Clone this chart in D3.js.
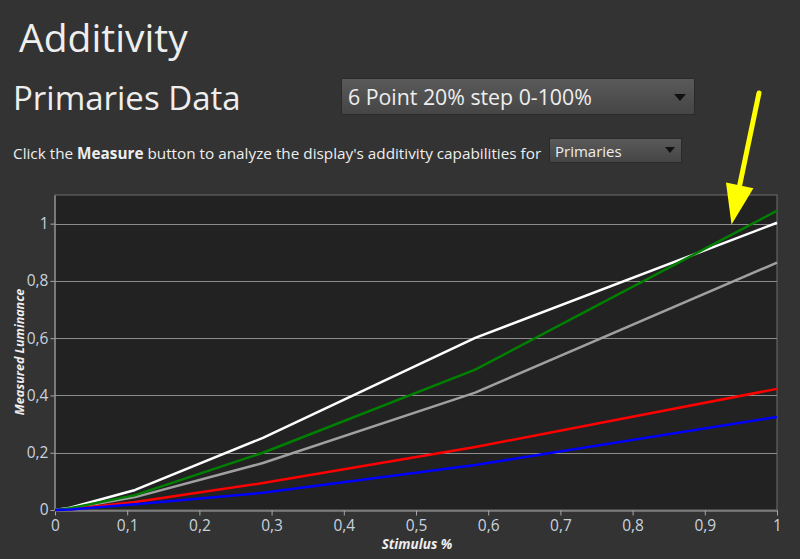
<!DOCTYPE html>
<html>
<head>
    <meta charset="utf-8">
    <script src="https://d3js.org/d3.v7.min.js"></script>
    <style>
        body { margin: 0; background: #333333; }
        svg { display: block; }
    </style>
</head>
<body>
    <svg id="svg"></svg>
</body>
</html>

<script type="text/javascript">
    // stimulus levels (0,20,...,100% through gamma 2.4)
    const stimulus = [0, 0.021, 0.111, 0.288, 0.582, 1];
    const whiteLum = [0, 0.008, 0.07, 0.252, 0.601, 1.003];
    const greenLum = [0, 0.006, 0.052, 0.2, 0.49, 1.045];
    const grayLum  = [0, 0.005, 0.045, 0.164, 0.41, 0.864];
    const redLum   = [0, 0.003, 0.028, 0.094, 0.22, 0.423];
    const blueLum  = [0, 0.002, 0.02, 0.06, 0.157, 0.325];

    const xTicks = [0, 0.1, 0.2, 0.3, 0.4, 0.5, 0.6, 0.7, 0.8, 0.9, 1];
    const yTicks = [0, 0.2, 0.4, 0.6, 0.8, 1];

    const series = [
        { name: 'white', values: whiteLum, color: '#ffffff' },
        { name: 'gray', values: grayLum, color: '#a0a0a0' },
        { name: 'red', values: redLum, color: '#ff0000' },
        { name: 'green', values: greenLum, color: '#008000' },
        { name: 'blue', values: blueLum, color: '#0000ff' }
    ];

    const width = 800;
    const height = 559;
    const plot = { left: 55, right: 777, top: 195, bottom: 510 };
    const uiFont = "'Open Sans', 'Noto Sans', sans-serif";
    const textColor = '#eeeeee';
    const tickColor = '#c8d2de';

    const svg = d3.select('#svg')
        .attr('width', width)
        .attr('height', height);

    svg.append('rect')
        .attr('width', width)
        .attr('height', height)
        .attr('fill', '#333333');

    // header texts
    svg.append('text')
        .attr('x', 19).attr('y', 52)
        .attr('font-family', uiFont).attr('font-size', 39)
        .attr('fill', textColor)
        .text('Additivity');

    svg.append('text')
        .attr('x', 13).attr('y', 110)
        .attr('font-family', uiFont).attr('font-size', 33)
        .attr('fill', textColor)
        .text('Primaries Data');

    const grad = svg.append('defs').append('linearGradient')
        .attr('id', 'btn').attr('x1', 0).attr('y1', 0).attr('x2', 0).attr('y2', 1);
    grad.append('stop').attr('offset', '0%').attr('stop-color', '#5a5a5a');
    grad.append('stop').attr('offset', '100%').attr('stop-color', '#454545');

    // big dropdown
    svg.append('rect')
        .attr('x', 341.5).attr('y', 78.5).attr('width', 353).attr('height', 36)
        .attr('fill', 'url(#btn)').attr('stroke', '#2a2a2a');
    svg.append('text')
        .attr('x', 348).attr('y', 105)
        .attr('font-family', uiFont).attr('font-size', 21.3)
        .attr('fill', textColor)
        .text('6 Point 20% step 0-100%');
    svg.append('path')
        .attr('d', 'M674,94 L686,94 L680,101 Z')
        .attr('fill', '#111');

    // instruction line
    const info = svg.append('text')
        .attr('x', 13).attr('y', 159)
        .attr('font-family', uiFont).attr('font-size', 15.3)
        .attr('fill', textColor);
    info.append('tspan').text('Click the ');
    info.append('tspan').attr('font-weight', 'bold').text('Measure');
    info.append('tspan').text(" button to analyze the display's additivity capabilities for");

    svg.append('rect')
        .attr('x', 549.5).attr('y', 138.5).attr('width', 132).attr('height', 24)
        .attr('fill', 'url(#btn)').attr('stroke', '#2a2a2a');
    svg.append('text')
        .attr('x', 555).attr('y', 157)
        .attr('font-family', uiFont).attr('font-size', 15)
        .attr('fill', textColor)
        .text('Primaries');
    svg.append('path')
        .attr('d', 'M665,147 L675,147 L670,153 Z')
        .attr('fill', '#111');

    // chart
    const x = d3.scaleLinear().domain([0, 1]).range([plot.left, plot.right]);
    const y = d3.scaleLinear().domain([0, 1.1]).range([plot.bottom, plot.top]);

    svg.append('rect')
        .attr('x', plot.left).attr('y', plot.top)
        .attr('width', plot.right - plot.left).attr('height', plot.bottom - plot.top)
        .attr('fill', '#222222')
        .attr('stroke', '#6e6e6e');

    svg.append('g')
        .selectAll('line')
        .data(yTicks.filter(d => d > 0))
        .join('line')
        .attr('x1', plot.left).attr('x2', plot.right)
        .attr('y1', d => Math.round(y(d)) + 0.5).attr('y2', d => Math.round(y(d)) + 0.5)
        .attr('stroke', '#8c8c8c');

    const fmt = d => d3.format('~g')(d).replace('.', ',');

    const xAxis = svg.append('g')
        .attr('transform', `translate(0, ${plot.bottom + 0.5})`)
        .call(d3.axisBottom(x).tickValues(xTicks).tickFormat(fmt).tickSize(5).tickSizeOuter(0).tickPadding(4));
    const yAxis = svg.append('g')
        .attr('transform', `translate(${plot.left - 0.5}, 0)`)
        .call(d3.axisLeft(y).tickValues(yTicks).tickFormat(fmt).tickSize(4).tickSizeOuter(0).tickPadding(2));

    [xAxis, yAxis].forEach(a => {
        a.select('.domain').attr('stroke', '#a8a8a8');
        a.selectAll('.tick line').attr('stroke', '#a8a8a8');
        a.selectAll('.tick text')
            .attr('fill', tickColor)
            .attr('font-family', uiFont)
            .attr('font-size', 15.5);
    });

    svg.append('text')
        .attr('x', 417).attr('y', 549)
        .attr('text-anchor', 'middle')
        .attr('font-family', uiFont).attr('font-size', 13.5)
        .attr('font-style', 'italic').attr('font-weight', 'bold')
        .attr('fill', textColor)
        .text('Stimulus %');

    svg.append('text')
        .attr('transform', 'translate(24, 352) rotate(-90)')
        .attr('text-anchor', 'middle')
        .attr('font-family', uiFont).attr('font-size', 12.5)
        .attr('font-style', 'italic').attr('font-weight', 'bold')
        .attr('fill', textColor)
        .text('Measured Luminance');

    const line = d3.line()
        .x((d, i) => x(stimulus[i]))
        .y(d => y(d));

    svg.append('g')
        .selectAll('path')
        .data(series)
        .join('path')
        .attr('d', d => line(d.values))
        .attr('fill', 'none')
        .attr('stroke', d => d.color)
        .attr('stroke-width', 2.5)
        .attr('stroke-linejoin', 'round');

    // yellow annotation arrow pointing where green overtakes white
    const tip = [x(0.937), y(0.997)];
    const tail = [759, 93];
    const ang = Math.atan2(tip[1] - tail[1], tip[0] - tail[0]);
    const headLen = 40, headW = 14;
    const bx = tip[0] - headLen * Math.cos(ang), by = tip[1] - headLen * Math.sin(ang);
    svg.append('line')
        .attr('x1', tail[0]).attr('y1', tail[1])
        .attr('x2', bx).attr('y2', by)
        .attr('stroke', '#ffff00').attr('stroke-width', 5)
        .attr('stroke-linecap', 'round');
    svg.append('path')
        .attr('d', `M${tip[0]},${tip[1]} L${bx + headW * Math.sin(ang)},${by - headW * Math.cos(ang)} L${bx - headW * Math.sin(ang)},${by + headW * Math.cos(ang)} Z`)
        .attr('fill', '#ffff00');
</script>
